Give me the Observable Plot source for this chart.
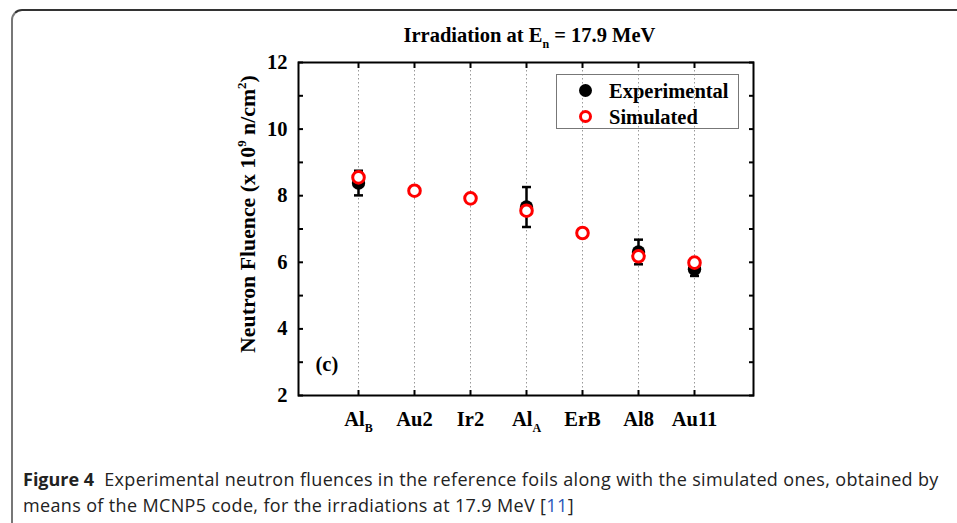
<!DOCTYPE html>
<html>
<head>
<meta charset="utf-8">
<script src="https://cdn.jsdelivr.net/npm/d3@7"></script>
<script src="https://cdn.jsdelivr.net/npm/@observablehq/plot@0.6"></script>
<style>
  html, body { margin: 0; padding: 0; background: #fff; width: 957px; height: 523px; overflow: hidden; }
  #wrap { position: relative; width: 957px; height: 523px; }
  #border { position: absolute; left: 11px; top: 9px; width: 1000px; height: 600px;
            border-top: 2px solid #333; border-left: 2px solid #777; border-radius: 11px 0 0 0; }
  #chart { position: absolute; left: 0; top: 0; }
  #legend { position: absolute; left: 556px; top: 74px; width: 181px; height: 53px;
            border: 1.5px solid #777; font-family: "Liberation Serif", serif; font-weight: bold; font-size: 20.5px; }
  .lg { position: absolute; left: 0; height: 22px; line-height: 22px; }
  .sym { position: absolute; left: 22px; top: 4px; width: 13px; height: 13px; border-radius: 50%; box-sizing: border-box; }
  .lab { position: absolute; left: 52px; top: 0; white-space: nowrap; }
  #caption { position: absolute; left: 23px; top: 466px; width: 930px; font-family: "Open Sans", sans-serif;
             font-size: 18px; line-height: 26px; color: #222; letter-spacing: 0.35px; white-space: nowrap; }
  #caption b { font-weight: 700; letter-spacing: 0; }
  #caption a { color: #2a55b8; text-decoration: none; }
</style>
</head>
<body>
<div id="wrap">
  <div id="border"></div>
  <div id="chart"></div>
  <div id="legend">
    <div class="lg" style="top:5px"><div class="sym" style="background:#000"></div><div class="lab">Experimental</div></div>
    <div class="lg" style="top:31px"><div class="sym" style="border:3px solid #f00;background:#fff"></div><div class="lab">Simulated</div></div>
  </div>
  <div id="caption"><b>Figure 4</b>&nbsp; Experimental neutron fluences in the reference foils along with the simulated ones, obtained by<br>means of the MCNP5 code, for the irradiations at 17.9 MeV [<a>11</a>]</div>
</div>
<script>
// ---- data ----
const foils = ["AlB", "Au2", "Ir2", "AlA", "ErB", "Al8", "Au11"];
const foilBase = ["Al", "Au2", "Ir2", "Al", "ErB", "Al8", "Au11"];
const foilSub = ["B", "", "", "A", "", "", ""];
const expFoils = ["AlB", "AlA", "Al8", "Au11"];
const expValues = [8.38, 7.66, 6.31, 5.79];
const expErrors = [0.37, 0.60, 0.37, 0.20];
const simValues = [8.55, 8.15, 7.92, 7.55, 6.88, 6.18, 5.99];
const yTicks = [2, 3, 4, 5, 6, 7, 8, 9, 10, 11, 12];
const title = "Irradiation at E = 17.9 MeV";
const yLabel = "Neutron Fluence (x 10 n/cm )";
const panelTag = "(c)";

const expData = expFoils.map((f, i) => ({foil: f, v: expValues[i], lo: expValues[i] - expErrors[i], hi: expValues[i] + expErrors[i]}));
const simData = foils.map((f, i) => ({foil: f, v: simValues[i]}));

// horizontal-line symbol for error-bar caps (half-width = r)
const capSymbol = {
  draw(context, size) {
    const w = Math.sqrt(size / Math.PI);
    context.moveTo(-w, 0);
    context.lineTo(w, 0);
  }
};

const serif = "Liberation Serif, Times New Roman, serif";
const W = 957, H = 450;
const FS = 20.5;

const chart = Plot.plot({
  width: W, height: H,
  marginLeft: 298, marginRight: 204, marginTop: 62, marginBottom: 55,
  style: {fontFamily: serif, fontSize: FS + "px", fontWeight: "bold", color: "#000", background: "transparent"},
  x: {type: "point", domain: foils, padding: 1, axis: null},
  y: {domain: [2, 12], axis: null},
  marks: [
    Plot.gridX(foils, {stroke: "#999", strokeOpacity: 1, strokeDasharray: "1.5,2.5", strokeWidth: 1}),
    // axes with inward ticks
    Plot.axisY(yTicks, {anchor: "left", tickSize: -5, tickPadding: 16, strokeWidth: 2, fontSize: FS,
      tickFormat: d => (d % 2 === 0 ? String(d) : ""), label: null}),
    Plot.axisY(yTicks, {anchor: "right", tickSize: -5, strokeWidth: 2, tickFormat: () => "", label: null}),
    Plot.axisX(foils, {anchor: "bottom", tickSize: -5, tickPadding: 21, strokeWidth: 2, fontSize: FS,
      tickFormat: d => d, label: null}),
    Plot.axisX(foils, {anchor: "top", tickSize: -5, strokeWidth: 2, tickFormat: () => "", label: null}),
    Plot.frame({stroke: "#000", strokeWidth: 2}),
    // experimental with error bars
    Plot.ruleX(expData, {x: "foil", y1: "lo", y2: "hi", stroke: "#000", strokeWidth: 2.5}),
    Plot.dot(expData, {x: "foil", y: "lo", symbol: capSymbol, r: 4.5, stroke: "#000", fill: "none", strokeWidth: 2.5}),
    Plot.dot(expData, {x: "foil", y: "hi", symbol: capSymbol, r: 4.5, stroke: "#000", fill: "none", strokeWidth: 2.5}),
    Plot.dot(expData, {x: "foil", y: "v", r: 6.7, fill: "#000", stroke: "none"}),
    // simulated
    Plot.dot(simData, {x: "foil", y: "v", r: 5.8, fill: "#fff", stroke: "#f00", strokeWidth: 3}),
    // texts
    Plot.text([title], {text: d => d, frameAnchor: "top-left", textAnchor: "start", lineAnchor: "bottom", dx: 105, dy: -21, fontSize: 20.5, fontWeight: "bold"}),
    Plot.text([yLabel], {text: d => d, frameAnchor: "left", textAnchor: "middle", lineAnchor: "middle", rotate: -90, dx: -50, dy: -15, fontSize: 21.8, fontWeight: "bold"}),
    Plot.text([panelTag], {text: d => d, frameAnchor: "bottom-left", textAnchor: "start", dx: 17, dy: -25, fontSize: FS, fontWeight: "bold"})
  ]
});
document.getElementById("chart").appendChild(chart);

// rich-text post-processing: subscripts / superscripts
const svg = d3.select(chart);
function rich(textSel, parts) {
  textSel.text(null);
  parts.forEach(p => {
    const t = textSel.append("tspan").text(p.t);
    if (p.shift) t.attr("dy", p.shift).style("font-size", p.size || "11px");
    if (p.back) t.attr("dy", p.back);
  });
}
svg.selectAll("text").each(function () {
  const el = d3.select(this);
  const s = el.text();
  const i = foils.indexOf(s);
  if (i >= 0 && foilSub[i]) {
    rich(el, [{t: foilBase[i]}, {t: foilSub[i], shift: "6", size: "12px"}]);
  } else if (s === title) {
    rich(el, [{t: "Irradiation at E"}, {t: "n", shift: "6", size: "12px"}, {t: " = 17.9 MeV", back: "-6"}]);
  } else if (s === yLabel) {
    rich(el, [{t: "Neutron Fluence (x 10"}, {t: "9", shift: "-9", size: "13px"}, {t: " n/cm", back: "9"}, {t: "2", shift: "-9", size: "13px"}, {t: ")", back: "9"}]);
  }
});
</script>
</body>
</html>
